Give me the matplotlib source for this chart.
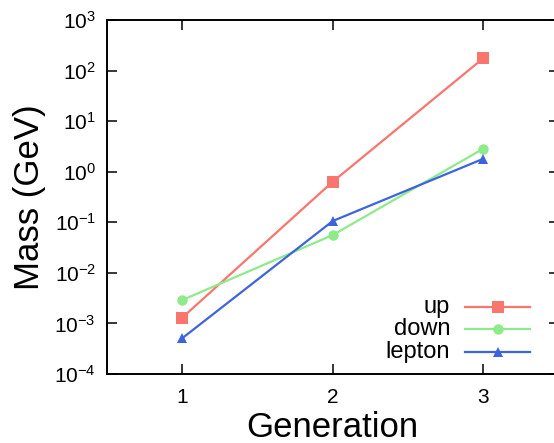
import matplotlib
matplotlib.use("Agg")
import matplotlib.pyplot as plt
from matplotlib.ticker import FixedLocator, NullLocator

plt.rcParams["font.family"] = ["Liberation Sans", "DejaVu Sans"]
plt.rcParams["mathtext.fontset"] = "custom"
plt.rcParams["mathtext.rm"] = "Liberation Sans"
plt.rcParams["mathtext.it"] = "Liberation Sans"

# Data (GeV)
generations = [1, 2, 3]
up = [1.3e-3, 0.635, 175]
down = [2.9e-3, 0.056, 2.85]
lepton = [5.1e-4, 0.106, 1.8]

series = [
    ("up", up, "#F8766D", "s", 8.0),
    ("down", down, "#8EEA8A", "o", 7.5),
    ("lepton", lepton, "#3D64DE", "^", 7.5),
]

fig = plt.figure(figsize=(5.54, 4.43), dpi=100)
ax = fig.add_axes([107 / 554, 69 / 443, 451.5 / 554, 354 / 443])

for name, vals, color, marker, ms in series:
    ax.plot(generations, vals, color=color, marker=marker, markersize=ms,
            linewidth=1.6, markeredgewidth=0, clip_on=False)

ax.set_yscale("log")
ax.set_xlim(0.5, 3.5)
ax.set_ylim(1e-4, 1e3)
ax.xaxis.set_major_locator(FixedLocator(generations))
ax.yaxis.set_major_locator(FixedLocator([10.0 ** k for k in range(-4, 4)]))
ax.yaxis.set_minor_locator(NullLocator())
ax.set_yticklabels([r"$10^{%d}$" % k for k in range(-4, 4)])

ax.tick_params(which="major", direction="in", length=7.5, width=1.1,
               top=True, right=True, labelsize=15, color="black")
ax.tick_params(axis="y", pad=8)
ax.tick_params(axis="x", pad=10)
for sp in ax.spines.values():
    sp.set_linewidth(1.4)
ax.spines["right"].set_visible(False)

ax.set_xlabel("Generation", fontsize=25, labelpad=3)
ax.set_ylabel("Mass (GeV)", fontsize=25, labelpad=6)

# gnuplot-style key: right-aligned labels, sample to the right
key_y = [0.189, 0.127, 0.062]
for (name, vals, color, marker, ms), ky in zip(series, key_y):
    ax.plot([0.793, 0.937], [ky, ky], transform=ax.transAxes, color=color,
            linewidth=1.6, clip_on=False)
    ax.plot([0.865], [ky], transform=ax.transAxes, color=color, marker=marker,
            markersize=ms, markeredgewidth=0, clip_on=False)
    ax.text(0.760, ky, name, transform=ax.transAxes, ha="right", va="center",
            fontsize=17)

fig.savefig("out.png", dpi=100)
